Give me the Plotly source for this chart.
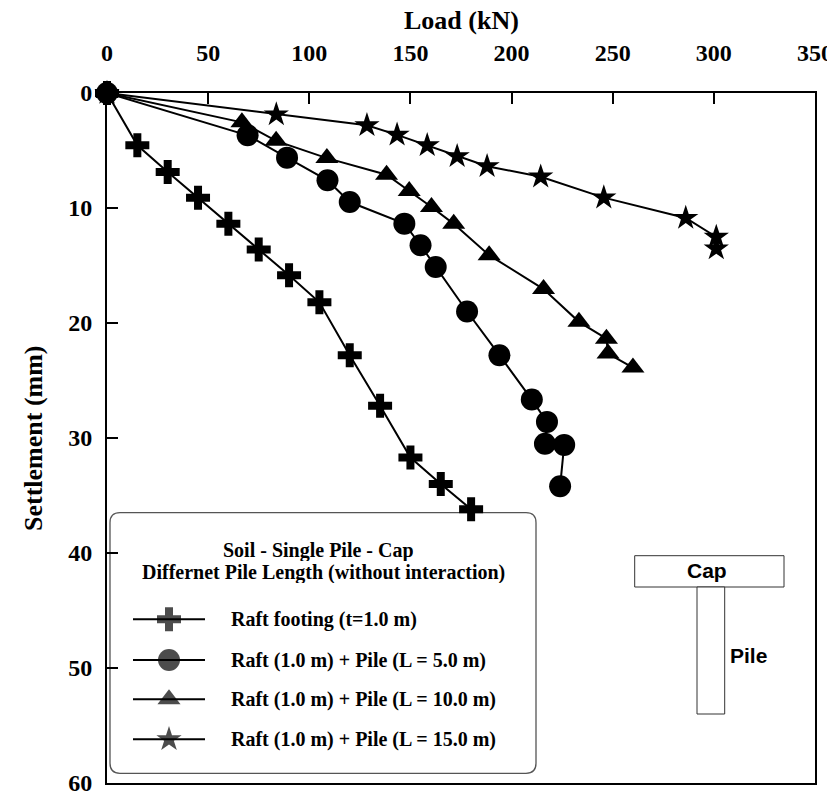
import plotly.graph_objects as go

# ---------------- data ----------------
raft_load = [0, 15, 30, 45, 60, 75, 90, 105, 120, 135, 150, 165, 180]
raft_settle = [0, 4.55, 6.87, 9.10, 11.36, 13.6, 15.85, 18.2, 22.8, 27.2, 31.7, 34.0, 36.2]

pile5_load = [0, 69.5, 89, 109, 120, 147, 155, 162.5, 178, 194, 210, 217.5, 216.5, 226, 224]
pile5_settle = [0, 3.68, 5.62, 7.59, 9.48, 11.36, 13.24, 15.13, 19.0, 22.8, 26.66, 28.6, 30.5, 30.6, 34.2]

pile10_load = [0, 66.7, 83.6, 108.7, 138.2, 149.4, 160.4, 171.4, 188.9, 215.8, 233.3, 246.9, 247.7, 260.0]
pile10_settle = [0, 2.55, 4.16, 5.66, 7.11, 8.52, 9.91, 11.38, 14.1, 17.05, 19.9, 21.36, 22.66, 23.88]

pile15_load = [0, 83.7, 128.5, 143.4, 158.3, 173.1, 187.9, 214.4, 245.6, 286.1, 301.2, 301.2]
pile15_settle = [0, 1.87, 2.81, 3.64, 4.55, 5.50, 6.37, 7.28, 9.10, 10.87, 12.52, 13.53]

series_names = [
    "Raft footing (t=1.0 m)",
    "Raft (1.0 m) + Pile (L = 5.0 m)",
    "Raft (1.0 m) + Pile (L = 10.0 m)",
    "Raft (1.0 m) + Pile (L = 15.0 m)",
]
x_ticks = [0, 50, 100, 150, 200, 250, 300, 350]
y_ticks = [0, 10, 20, 30, 40, 50, 60]
legend_title = ["Soil - Single Pile - Cap", "Differnet Pile Length (without interaction)"]

# ---------------- layout geometry (page pixels) ----------------
PAGE_OFF = 8                      # default body margin of the html page
PX0, PX1, PY0, PY1 = 107, 815, 93, 783   # plot area on the page
W, H = 835 - PAGE_OFF, 794 - PAGE_OFF
L, T = PX0 - PAGE_OFF, PY0 - PAGE_OFF
R, B = W - (PX1 - PAGE_OFF), H - (PY1 - PAGE_OFF)

SERIF = "Liberation Serif, Times New Roman, serif"
SANS = "Liberation Sans, Arial, sans-serif"
symbols = ["cross", "circle", "triangle-up", "star"]
sizes = [20, 22, 20, 19]

fig = go.Figure()

data = [
    (raft_load, raft_settle),
    (pile15_load, pile15_settle),
    (pile10_load, pile10_settle),
    (pile5_load, pile5_settle),
]
order = [0, 3, 2, 1]
for (xs, ys), idx in zip(data, order):
    fig.add_trace(go.Scatter(
        x=xs, y=ys, mode="lines+markers", name=series_names[idx],
        line=dict(color="black", width=2),
        marker=dict(symbol=symbols[idx], size=sizes[idx], color="black", line=dict(width=0)),
        cliponaxis=False, showlegend=False,
    ))

# ---------------- manual legend (pixel overlay axes) ----------------
leg_y = [619.3, 660, 699.3, 739.3]
for i in range(4):
    fig.add_trace(go.Scatter(
        x=[133, 169, 205], y=[leg_y[i]] * 3, xaxis="x2", yaxis="y2",
        mode="lines+markers", line=dict(color="black", width=2),
        marker=dict(symbol=symbols[i], size=[0, sizes[i], 0], color="black", line=dict(width=0)),
        showlegend=False, hoverinfo="skip", cliponaxis=False,
    ))

def rrect(x0, y0, x1, y1, r):
    return (f"M {x0+r},{y0} L {x1-r},{y0} Q {x1},{y0} {x1},{y0+r} L {x1},{y1-r} "
            f"Q {x1},{y1} {x1-r},{y1} L {x0+r},{y1} Q {x0},{y1} {x0},{y1-r} "
            f"L {x0},{y0+r} Q {x0},{y0} {x0+r},{y0} Z")

shapes = [
    dict(type="path", path=rrect(110, 512.7, 536, 773.3, 10), xref="x2", yref="y2",
         line=dict(color="#555555", width=1.3), fillcolor="white", layer="below"),
    dict(type="rect", x0=634.7, y0=555.7, x1=784, y1=587, xref="x2", yref="y2",
         line=dict(color="#333333", width=1), fillcolor="white"),
    dict(type="rect", x0=697, y0=587, x1=724.7, y1=714, xref="x2", yref="y2",
         line=dict(color="#333333", width=1), fillcolor="white"),
]

def px(xp):
    return (xp - PX0) / (PX1 - PX0)

def py(yp):
    return (PY1 - yp) / (PY1 - PY0)

def text(t, x, y, size, family=SERIF, xanchor="center", **kw):
    return dict(text=t, x=px(x), y=py(y), xref="paper", yref="paper", showarrow=False,
                xanchor=xanchor, yanchor="middle",
                font=dict(family=family, size=size, color="black", weight=700), **kw)

ann = [
    text("Load (kN)", 461, 20, 26),
    text("Settlement (mm)", 33, 438, 26, textangle=-90),
    text(legend_title[0], 318, 549.5, 20, height=22),
    text(legend_title[1], 323, 571.5, 20, height=22),
    text("Cap", 707, 570, 21, family=SANS),
    text("Pile", 728, 655, 21, family=SANS, xanchor="left"),
]
for i in range(4):
    ann.append(text(series_names[i], 229, leg_y[i], 20, xanchor="left"))

axis_common = dict(
    showgrid=False, zeroline=False, showline=True, linecolor="black", linewidth=2,
    mirror=True, ticks="inside", ticklen=11, tickwidth=2, tickcolor="black",
    automargin=False, ticklabeloverflow="allow",
    tickfont=dict(family=SERIF, size=24, color="black", weight=700),
)

fig.update_layout(
    width=W, height=H, margin=dict(l=L, r=R, t=T, b=B, autoexpand=False),
    plot_bgcolor="white", paper_bgcolor="white", showlegend=False,
    xaxis=dict(range=[0, 350], side="top", tickvals=x_ticks, ticklabelstandoff=20, **axis_common),
    yaxis=dict(range=[60, 0], tickvals=y_ticks, ticklabelstandoff=8, **axis_common),
    xaxis2=dict(range=[PX0, PX1], overlaying="x", anchor="y2", visible=False, automargin=False),
    yaxis2=dict(range=[PY1, PY0], overlaying="y", anchor="x2", visible=False, automargin=False),
    shapes=shapes, annotations=ann,
)

fig.write_html("out.html")
